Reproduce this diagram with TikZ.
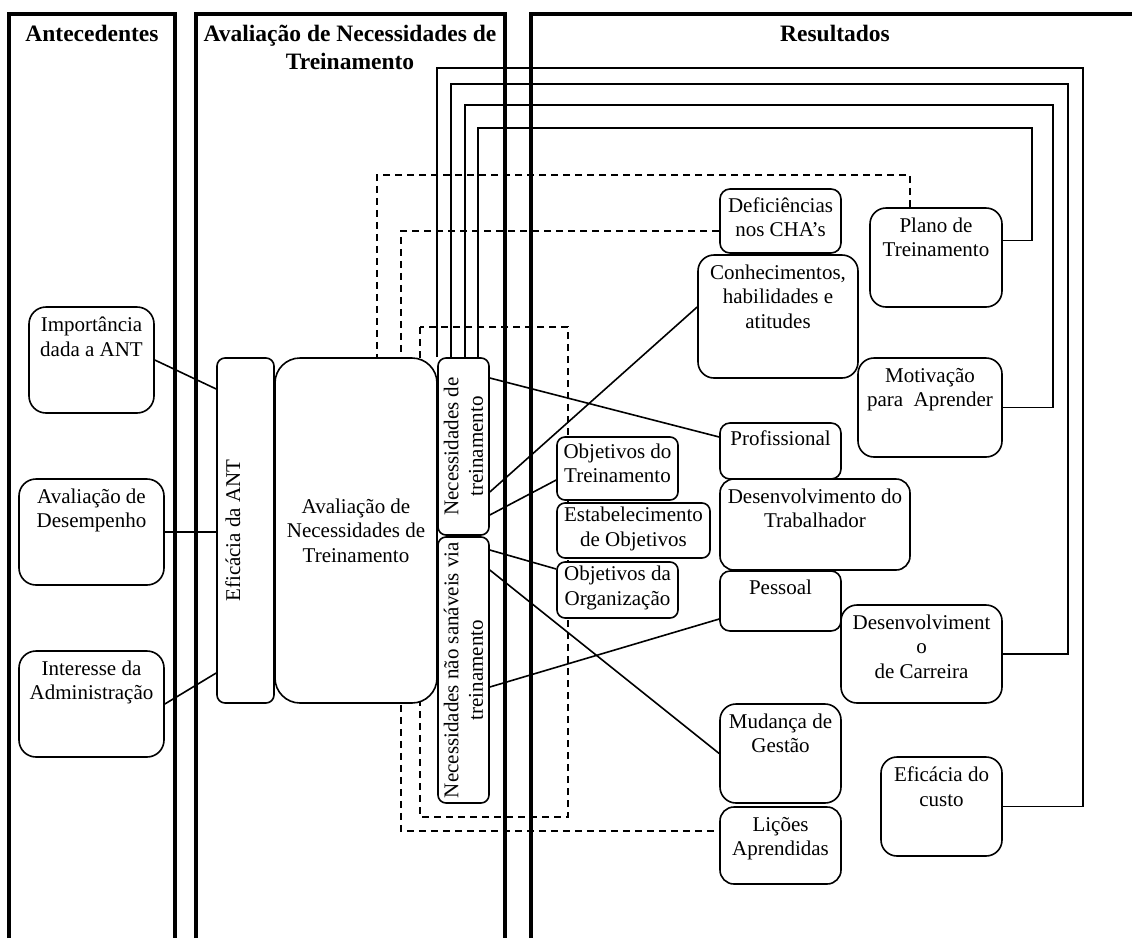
\documentclass[tikz,border=0pt]{standalone}
\usepackage{fontspec}
\setmainfont{Liberation Serif}
\usetikzlibrary{backgrounds}

\begin{document}
\begin{tikzpicture}[x=1pt, y=-1pt,
    font=\fontsize{21}{24.5}\selectfont,
    caixa/.style={draw, fill=white, line width=1.6pt, rounded corners=12pt, inner sep=0pt},
    topo/.style={anchor=north, align=center, inner xsep=0pt, inner ysep=10.5pt},
    liga/.style={line width=1.6pt},
    coluna/.style={line width=3.2pt},
    tracejado/.style={line width=1.6pt, dash pattern=on 7pt off 5pt},
    titulo/.style={font=\fontsize{23.5}{28}\selectfont\bfseries, align=center}]
    \useasboundingbox (0,0) rectangle (1132,938);
    \draw [coluna] (9,938) -- (9,14) -- (175,14) -- (175,938);
    \draw [coluna] (196,938) -- (196,14) -- (505,14) -- (505,938);
    \draw [coluna] (531,938) -- (531,14) -- (1132,14);
    \path
        (92,33) node(antec)[titulo]{Antecedentes}
        (350,47) node(avalt)[titulo]{Avaliação de Necessidades de\\Treinamento}
        (835,33) node(result)[titulo]{Resultados};
    \path
        (91.5,360) node(imp)[caixa, rounded corners=17pt, minimum width=125pt, minimum height=106pt,
            label={[topo]north:Importância\\dada a ANT}]{}
        (91.5,532) node(desemp)[caixa, rounded corners=17pt, minimum width=145pt, minimum height=106pt,
            label={[topo]north:Avaliação de\\Desempenho}]{}
        (91.5,704) node(admin)[caixa, rounded corners=17pt, minimum width=145pt, minimum height=106pt,
            label={[topo]north:Interesse da\\Administração}]{};
    \path
        (245.5,530.5) node(efic)[caixa, rounded corners=8pt, minimum width=57pt, minimum height=345pt,
            label={[rotate=90, anchor=north, inner ysep=9pt]west:Eficácia da ANT}]{}
        (356,530.5) node(ant)[caixa, rounded corners=25pt, minimum width=162pt, minimum height=345pt,
            align=center]{Avaliação de\\Necessidades de\\Treinamento}
        (463.5,446.5) node(nect)[caixa, rounded corners=8pt, minimum width=51pt, minimum height=177pt,
            label={[rotate=90, align=center]center:Necessidades de\\treinamento}]{}
        (463.5,670) node(necn)[caixa, rounded corners=8pt, minimum width=51pt, minimum height=266pt,
            label={[rotate=90, align=center]center:Necessidades não sanáveis via\\treinamento}]{};
    \path
        (617.5,468.5) node(objtr)[caixa, rounded corners=8pt, minimum width=121pt, minimum height=63pt,
            label={[topo, inner ysep=7.5pt]north:Objetivos do\\Treinamento}]{}
        (633.5,530.5) node(estab)[caixa, rounded corners=8pt, minimum width=153pt, minimum height=55pt,
            label={[topo, inner ysep=5pt]north:Estabelecimento\\de Objetivos}]{}
        (617.5,590) node(objorg)[caixa, rounded corners=8pt, minimum width=121pt, minimum height=56pt,
            label={[topo, inner ysep=5pt]north:Objetivos da\\Organização}]{};
    \path
        (780.5,221) node(defic)[caixa, rounded corners=10pt, minimum width=121pt, minimum height=64pt,
            label={[topo, inner ysep=9pt]north:Deficiências\\nos CHA’s}]{}
        (778,316.5) node(conh)[caixa, rounded corners=16pt, minimum width=160pt, minimum height=123pt,
            label={[topo]north:Conhecimentos,\\habilidades e\\atitudes}]{}
        (936,257.5) node(plano)[caixa, rounded corners=16pt, minimum width=132pt, minimum height=99pt,
            label={[topo]north:Plano de\\Treinamento}]{}
        (930,407.5) node(motiv)[caixa, rounded corners=16pt, minimum width=144pt, minimum height=99pt,
            label={[topo]north:Motivação\\para\ \ Aprender}]{}
        (780.5,451) node(prof)[caixa, rounded corners=10pt, minimum width=121pt, minimum height=56pt,
            label={[topo, inner ysep=8.5pt]north:Profissional}]{}
        (815,524.5) node(trab)[caixa, rounded corners=14pt, minimum width=190pt, minimum height=91pt,
            label={[topo]north:Desenvolvimento do\\Trabalhador}]{}
        (780.5,601) node(pess)[caixa, rounded corners=10pt, minimum width=121pt, minimum height=60pt,
            label={[topo, inner ysep=9.5pt]north:Pessoal}]{}
        (921.5,654) node(carr)[caixa, rounded corners=16pt, minimum width=161pt, minimum height=98pt,
            label={[topo]north:Desenvolviment\\o\\de Carreira}]{}
        (780.5,753.5) node(mud)[caixa, rounded corners=16pt, minimum width=121pt, minimum height=99pt,
            label={[topo]north:Mudança de\\Gestão}]{}
        (780.5,845.5) node(lic)[caixa, rounded corners=14pt, minimum width=121pt, minimum height=77pt,
            label={[topo]north:Lições\\Aprendidas}]{}
        (941.5,806.5) node(custo)[caixa, rounded corners=16pt, minimum width=121pt, minimum height=99pt,
            label={[topo]north:Eficácia do\\custo}]{};
    \begin{scope}[on background layer]
        \draw [tracejado] (plano.north -| 910,0) |- (377,175) -- (ant.north -| 377,0);
        \draw [tracejado] ([yshift=-10pt]defic.west) -| (401,831) -- (lic.west |- 0,831);
        \draw [tracejado] (420,327) rectangle (568,817);
    \end{scope}
    \draw [liga] (imp.east) -- (efic.west |- 0,389);
    \draw [liga] (desemp.east) -- (desemp.east -| efic.west);
    \draw [liga] (admin.east) -- (efic.west |- 0,673);
    \draw [liga] (nect.east |- 0,378) -- (prof.west |- 0,437);
    \draw [liga] (nect.east |- 0,492) -- (conh.west |- 0,307);
    \draw [liga] (nect.east |- 0,515) -- (objtr.west |- 0,480);
    \draw [liga] (necn.east |- 0,550) -- (objorg.west |- 0,569);
    \draw [liga] (necn.east |- 0,570) -- (mud.west);
    \draw [liga] (necn.east |- 0,687) -- (pess.west |- 0,619);
    \draw [liga] (nect.north west) |- (1083,68) |- (custo.east);
    \draw [liga] ([xshift=14pt]nect.north west) |- (1068,84) |- (carr.east);
    \draw [liga] ([xshift=28pt]nect.north west) |- (1053,105) |- (motiv.east);
    \draw [liga] ([xshift=41pt]nect.north west) |- (1032,128) |- ([yshift=17pt]plano.east);
\end{tikzpicture}
\end{document}
